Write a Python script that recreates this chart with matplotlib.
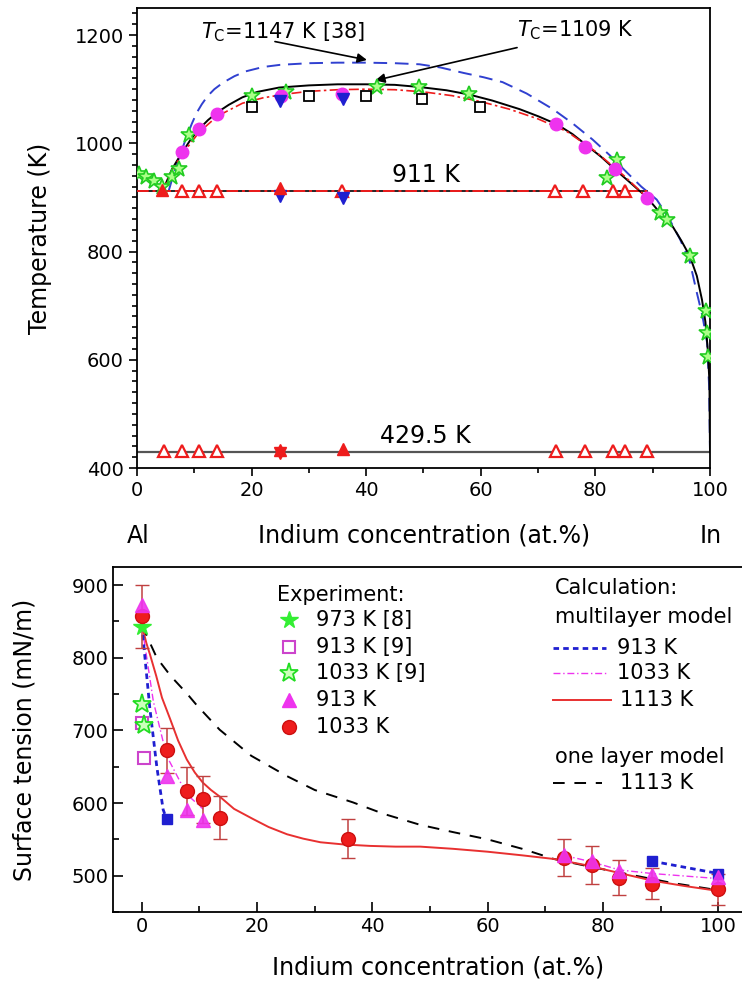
import matplotlib
matplotlib.use('Agg')
import matplotlib.pyplot as plt
from matplotlib.ticker import MultipleLocator

plt.rcParams['font.family'] = ['DejaVu Sans']
plt.rcParams['mathtext.fontset'] = 'custom'
plt.rcParams['mathtext.it'] = 'DejaVu Sans:italic'
plt.rcParams['mathtext.rm'] = 'DejaVu Sans'

# ---------------- phase diagram (top) ----------------
calc_x = [4.5, 5.2, 6.1, 7.0, 7.9, 9.3, 10.8, 12.4, 14.0, 16.0, 18.4, 21.0, 24.8, 30, 35, 40, 45, 49.3, 54, 58,
          62, 66.8, 70, 73.3, 76, 78.5, 81, 83.4, 86, 89, 91, 93.5, 95, 96.5, 97.7, 98.6, 99.2, 99.6, 99.9, 100]
calc_T = [911, 930, 952, 968, 983, 1006, 1026, 1043, 1057, 1071, 1085, 1095, 1103, 1107, 1109, 1109, 1108, 1104,
          1098, 1090, 1079, 1063, 1050, 1035, 1017, 996, 975, 952, 928, 900, 875, 846, 820, 791, 755, 711, 670,
          620, 560, 429.5]

lit38_x = [5.5, 6.3, 7.1, 7.9, 8.8, 9.6, 10.4, 11.3, 12.3, 13.5, 15.0, 17.0, 19.0, 22.0, 25.0, 30, 35, 40, 45,
           49.3, 53, 57, 60.5, 63.8, 68, 72.6, 76, 79.5, 82.5, 85.5, 88, 90.7, 92.8, 94.8, 96.5, 97.7, 98.7, 99.5,
           99.85, 100]
lit38_T = [911, 940, 966, 990, 1016, 1037, 1056, 1072, 1087, 1100, 1112, 1124, 1133, 1141, 1145, 1148, 1149, 1149,
           1148, 1146, 1140, 1130, 1122, 1113, 1092, 1063, 1037, 1007, 978, 946, 920, 896, 862, 822, 780, 724, 680,
           631, 550, 429.5]

alt_x = [4.5, 6.1, 7.9, 10.8, 14.0, 18.4, 22, 26, 30, 35, 40, 45, 50, 55, 60, 65, 70, 75, 80, 85, 89]
alt_T = [911, 950, 980, 1020, 1050, 1074, 1084, 1091, 1096, 1099, 1100, 1099, 1095, 1088, 1077, 1063, 1045, 1022,
         985, 940, 900]

star_x = [0.3, 1.5, 3.0, 4.4, 6.1, 7.3, 9.1, 20.1, 26.0, 41.8, 49.3, 58.0, 82.0, 83.7, 91.3, 92.5, 96.5, 99.3,
          99.5, 99.7]
star_T = [943, 937, 930, 920, 937, 952, 1015, 1087, 1094, 1104, 1104, 1091, 935, 970, 872, 859, 791, 690, 650, 605]

circ_x = [7.9, 10.8, 14.0, 25.1, 35.8, 73.2, 78.1, 83.4, 89.0]
circ_T = [983, 1026, 1054, 1087, 1091, 1035, 994, 952, 898]

sq_x = [20.1, 30, 40, 49.8, 59.8]
sq_T = [1067, 1087, 1087, 1081, 1067]

tri911_x = [7.9, 10.8, 14.0, 35.8, 72.9, 77.8, 83.0, 85.1]
tri430_x = [4.7, 7.9, 10.8, 14.0, 73.2, 78.1, 83.0, 85.1, 89.0]

heat_x = [4.4, 25.0, 25.0, 36.0]
heat_T = [913, 917, 433, 436]
cool_x = [25.0, 36.0, 25.0, 36.0, 25.0]
cool_T = [903, 899, 1079, 1081, 427]
cool_c = ['#1f1fd0', '#1f1fd0', '#1f1fd0', '#1f1fd0', '#ee1c1c']

# ---------------- surface tension (bottom) ----------------
e973_8_x = [0]
e973_8_y = [843]
e913_9_x = [0, 0.4]
e913_9_y = [710, 662]
e1033_9_x = [0, 0.4]
e1033_9_y = [736, 707]
e913_x = [0, 4.3, 7.8, 10.6, 73.2, 78.1, 82.8, 88.5, 100]
e913_y = [872, 637, 590, 577, 528, 520, 506, 501, 498]
e1033_x = [0, 4.3, 7.8, 10.6, 13.5, 35.8, 73.2, 78.1, 82.8, 88.5, 100]
e1033_y = [857, 673, 616, 605, 580, 551, 525, 515, 497, 489, 481]
e1033_err = [43, 31, 33, 32, 30, 27, 25, 26, 24, 21, 22]

c913_x1 = [0, 1.4, 2.6, 3.7, 4.3]
c913_y1 = [845, 730, 650, 591, 578]
c913_x2 = [88.5, 100]
c913_y2 = [520, 503]
c913_mx = [4.3, 88.5, 100]
c913_my = [578, 520, 503]

c1033_x1 = [0, 2.0, 4.3, 7.8, 10.6]
c1033_y1 = [845, 740, 665, 612, 592]
c1033_x2 = [73.2, 78.1, 82.8, 88.5, 100]
c1033_y2 = [528, 519, 508, 503, 496]

c1113_x = [0, 0.8, 1.4, 2.5, 3.5, 4.9, 6.3, 7.8, 9.2, 10.6, 12, 13.5, 16, 19.3, 22, 25.2, 28, 31, 35, 39.6, 44,
           48.3, 54, 60, 66, 71.5, 77.4, 83.2, 88.7, 94, 100]
c1113_y = [845, 820, 805, 775, 745, 716, 686, 660, 642, 628, 618, 609, 592, 578, 567, 557, 551, 546, 543, 541, 540,
           540, 537, 533, 528, 523, 514, 503, 493, 486, 479]

one_x = [0, 2.6, 5, 7.8, 9.5, 13.5, 19, 25.2, 30, 36.6, 42, 48.3, 54, 60, 66, 71.5, 78, 85, 92, 100]
one_y = [845, 800, 775, 751, 735, 701, 665, 637, 618, 601, 585, 570, 560, 550, 537, 523, 512, 501, 490, 480]

RED = '#ee1c1c'
MAG = '#ee33ee'
GRN = '#33ee33'
BLU = '#1f1fd0'
LFS = 15  # legend / annotation font size

fig = plt.figure(figsize=(7.42, 9.84), dpi=100)

ax1 = fig.add_axes([137 / 742, 1 - 468 / 984, 573 / 742, 460 / 984])
ax1.plot([0, 100], [429.5, 429.5], color='#555555', lw=1.6, zorder=1)
ax1.plot([0, 89], [911, 911], color='black', lw=1.2, zorder=2)
ax1.plot([0, 89], [911, 911], color=RED, lw=1.4, ls=(0, (6, 2, 1.5, 2)), zorder=3)
ax1.plot(lit38_x, lit38_T, color='#3040d0', lw=1.4, ls=(0, (7, 4)), zorder=2)
ax1.plot(calc_x, calc_T, color='black', lw=1.4, zorder=3)
ax1.plot(alt_x, alt_T, color=RED, lw=1.2, ls=(0, (6, 2, 1.5, 2)), zorder=3)

ax1.plot(star_x, star_T, ls='none', marker='*', ms=12, mfc='#aaff88', mec='#22cc22', mew=1.2, zorder=5)
ax1.plot(circ_x, circ_T, ls='none', marker='o', ms=9, mfc=MAG, mec=MAG, zorder=6)
ax1.plot(sq_x, sq_T, ls='none', marker='s', ms=6.5, mfc='white', mec='black', mew=1.3, zorder=6)
ax1.plot(tri911_x, [911] * len(tri911_x), ls='none', marker='^', ms=8, mfc='white', mec=RED, mew=1.6, zorder=6)
ax1.plot(tri430_x, [431] * len(tri430_x), ls='none', marker='^', ms=8, mfc='white', mec=RED, mew=1.6, zorder=6)
for x, t, c in zip(cool_x, cool_T, cool_c):
    ax1.plot(x, t, ls='none', marker='v', ms=9, mfc=c, mec=c, zorder=6)
ax1.plot(heat_x, heat_T, ls='none', marker='^', ms=9, mfc=RED, mec=RED, zorder=7)

ax1.text(50.4, 928, '911 K', fontsize=17, ha='center', va='baseline')
ax1.text(50.4, 446, '429.5 K', fontsize=17, ha='center', va='baseline')
ax1.text(11.2, 1193, r'$T_{\rm C}$=1147 K [38]', fontsize=LFS, ha='left', va='baseline')
ax1.annotate('', xy=(40.6, 1153), xytext=(23.6, 1189),
             arrowprops=dict(arrowstyle='-|>', color='black', lw=1.2, mutation_scale=14))
ax1.text(66.3, 1197, r'$T_{\rm C}$=1109 K', fontsize=LFS, ha='left', va='baseline')
ax1.annotate('', xy=(41.1, 1115), xytext=(66.8, 1178),
             arrowprops=dict(arrowstyle='-|>', color='black', lw=1.2, mutation_scale=14))

ax1.set_xlim(0, 100)
ax1.set_ylim(400, 1250)
ax1.xaxis.set_major_locator(MultipleLocator(20))
ax1.xaxis.set_minor_locator(MultipleLocator(10))
ax1.yaxis.set_major_locator(MultipleLocator(200))
ax1.yaxis.set_minor_locator(MultipleLocator(20))
ax1.tick_params(which='both', direction='out', labelsize=14, width=1.2)
ax1.tick_params(which='major', length=6)
ax1.tick_params(which='minor', length=3.5)
for s in ax1.spines.values():
    s.set_linewidth(1.3)
ax1.set_ylabel('Temperature (K)', fontsize=17)
ax1.yaxis.set_label_coords(-0.148, 0.5)
fig.text(138 / 742, 1 - 536 / 984, 'Al', fontsize=17, ha='center', va='center')
fig.text(711 / 742, 1 - 536 / 984, 'In', fontsize=17, ha='center', va='center')
fig.text(424 / 742, 1 - 536 / 984, 'Indium concentration (at.%)', fontsize=17, ha='center', va='center')

# ---------------- bottom panel ----------------
ax2 = fig.add_axes([113 / 742, 1 - 912 / 984, 634 / 742, 345 / 984])
ax2.plot(one_x, one_y, color='black', lw=1.4, ls=(0, (6, 5)), zorder=2)
ax2.plot(c1113_x, c1113_y, color='#e83030', lw=1.4, zorder=3)
ax2.plot(c1033_x1, c1033_y1, color=MAG, lw=1.0, ls=(0, (5, 2, 1, 2)), zorder=3)
ax2.plot(c1033_x2, c1033_y2, color=MAG, lw=1.0, ls=(0, (5, 2, 1, 2)), zorder=3)
ax2.plot(c913_x1, c913_y1, color=BLU, lw=2.0, ls=(0, (2, 1.5)), zorder=3)
ax2.plot(c913_x2, c913_y2, color=BLU, lw=2.0, ls=(0, (2, 1.5)), zorder=3)
ax2.plot(c913_mx, c913_my, ls='none', marker='s', ms=7, mfc=BLU, mec=BLU, zorder=5)

ax2.errorbar(e1033_x, e1033_y, yerr=e1033_err, fmt='none', ecolor='#c04040', elinewidth=1.1, capsize=5, zorder=4)
ax2.plot(e913_9_x, e913_9_y, ls='none', marker='s', ms=8, mfc='white', mec='#cc44cc', mew=1.5, zorder=5)
ax2.plot(e1033_9_x, e1033_9_y, ls='none', marker='*', ms=14, mfc='#ccffbb', mec='#22dd22', mew=1.3, zorder=5)
ax2.plot(e973_8_x, e973_8_y, ls='none', marker='*', ms=13, mfc=GRN, mec=GRN, zorder=5)
ax2.plot(e1033_x, e1033_y, ls='none', marker='o', ms=10, mfc=RED, mec='#cc1010', zorder=6)
ax2.plot(e913_x, e913_y, ls='none', marker='^', ms=10, mfc=MAG, mec=MAG, alpha=0.9, zorder=7)

ax2.set_xlim(-5, 105)
ax2.set_ylim(450, 925)
ax2.xaxis.set_major_locator(MultipleLocator(20))
ax2.xaxis.set_minor_locator(MultipleLocator(10))
ax2.yaxis.set_major_locator(MultipleLocator(100))
ax2.yaxis.set_minor_locator(MultipleLocator(50))
ax2.tick_params(which='both', direction='in', labelsize=14, width=1.2)
ax2.tick_params(which='major', length=7)
ax2.tick_params(which='minor', length=4)
for s in ax2.spines.values():
    s.set_linewidth(1.3)
ax2.set_xlabel('Indium concentration (at.%)', fontsize=17)
ax2.set_ylabel('Surface tension (mN/m)', fontsize=17)
ax2.xaxis.set_label_coords(0.513, -0.125)
ax2.yaxis.set_label_coords(-0.12, 0.5)

# legend, drawn by hand
tr = ax2.transAxes
ax2.text(0.259, 0.919, 'Experiment:', transform=tr, fontsize=LFS, ha='left', va='center')
leg_y = [0.846, 0.768, 0.693, 0.614, 0.536]
leg_lab = ['973 K [8]', '913 K [9]', '1033 K [9]', '913 K', '1033 K']
ax2.plot(0.277, leg_y[0], transform=tr, marker='*', ms=13, mfc=GRN, mec=GRN, clip_on=False)
ax2.plot(0.277, leg_y[1], transform=tr, marker='s', ms=8, mfc='white', mec='#cc44cc', mew=1.5, clip_on=False)
ax2.plot(0.277, leg_y[2], transform=tr, marker='*', ms=14, mfc='#ccffbb', mec='#22dd22', mew=1.3, clip_on=False)
ax2.plot(0.277, leg_y[3], transform=tr, marker='^', ms=10, mfc=MAG, mec=MAG, clip_on=False)
ax2.plot(0.277, leg_y[4], transform=tr, marker='o', ms=10, mfc=RED, mec='#cc1010', clip_on=False)
for y, lab in zip(leg_y, leg_lab):
    ax2.text(0.320, y, lab, transform=tr, fontsize=LFS, ha='left', va='center')

ax2.text(0.697, 0.939, 'Calculation:', transform=tr, fontsize=LFS, ha='left', va='center')
ax2.text(0.697, 0.855, 'multilayer model', transform=tr, fontsize=LFS, ha='left', va='center')
ax2.plot([0.694, 0.778], [0.765, 0.765], transform=tr, color=BLU, lw=2.0, ls=(0, (2, 1.5)))
ax2.text(0.795, 0.765, '913 K', transform=tr, fontsize=LFS, ha='left', va='center')
ax2.plot([0.694, 0.778], [0.693, 0.693], transform=tr, color=MAG, lw=1.0, ls=(0, (5, 2, 1, 2)))
ax2.text(0.795, 0.693, '1033 K', transform=tr, fontsize=LFS, ha='left', va='center')
ax2.plot([0.694, 0.785], [0.614, 0.614], transform=tr, color='#e83030', lw=1.4)
ax2.text(0.800, 0.614, '1113 K', transform=tr, fontsize=LFS, ha='left', va='center')
ax2.text(0.697, 0.449, 'one layer model', transform=tr, fontsize=LFS, ha='left', va='center')
ax2.plot([0.694, 0.772], [0.374, 0.374], transform=tr, color='black', lw=1.4, ls=(0, (6, 5)))
ax2.text(0.800, 0.374, '1113 K', transform=tr, fontsize=LFS, ha='left', va='center')

fig.savefig('out.png', dpi=100)
